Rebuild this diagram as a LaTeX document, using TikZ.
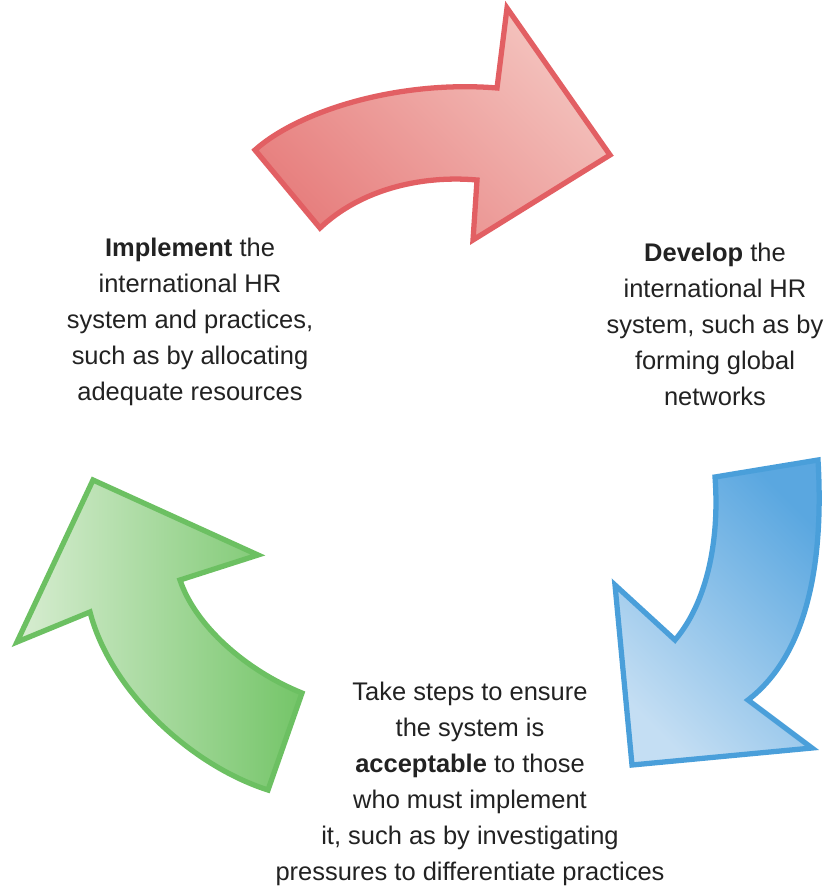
\documentclass[tikz,border=0pt]{standalone}
\usepackage{fontspec}
\setmainfont{Liberation Sans}
\usepackage{xcolor}
\usepackage{tikz}
\usetikzlibrary{positioning}

\definecolor{redline}{HTML}{E25F63}
\definecolor{redlight}{HTML}{F4C4BF}
\definecolor{reddark}{HTML}{E7807F}
\definecolor{blueline}{HTML}{4A9FDA}
\definecolor{bluelight}{HTML}{C4DEF3}
\definecolor{bluedark}{HTML}{5AA7E0}
\definecolor{greenline}{HTML}{6CC062}
\definecolor{greenlight}{HTML}{D8EDD2}
\definecolor{greendark}{HTML}{74C568}
\definecolor{textgrey}{HTML}{222222}

\tikzset{
	cyclearrow/.style={line width=3pt,line join=miter},
	steptext/.style={align=center,text=textgrey,font=\fontsize{14.5}{20.5}\selectfont,inner sep=0pt}
}

\begin{document}
\begin{tikzpicture}[x=0.02cm,y=-0.02cm]
	\useasboundingbox (0,0) rectangle (827,888);
	% red arrow (top)
	\draw[cyclearrow,draw=redline,top color=redlight,bottom color=reddark,shading angle=-45]
		(255,150) .. controls (300,110) and (400,80) .. (497,88) -- (507,8) -- (610,155)
		-- (473,240) -- (477,180) .. controls (420,175) and (360,190) .. (320,228) -- cycle;
	% blue arrow (right)
	\draw[cyclearrow,draw=blueline,top color=bluedark,bottom color=bluelight,shading angle=-45]
		(715,477) -- (818,460) .. controls (825,580) and (800,660) .. (748,700) -- (812,748)
		-- (632,765) -- (615,585) -- (675,640) .. controls (705,605) and (720,545) .. (715,477) -- cycle;
	% green arrow (left)
	\draw[cyclearrow,draw=greenline,left color=greenlight,right color=greendark]
		(93,480) -- (258,555) -- (180,580) .. controls (195,625) and (245,670) .. (302,693)
		-- (268,790) .. controls (190,765) and (110,690) .. (90,612) -- (17,642) -- cycle;
	% texts
	\node[steptext] (implement) at (190,322) {\textbf{Implement} the\\international HR\\system and practices,\\such as by allocating\\adequate resources};
	\node[steptext] (develop) at (715,324) {\textbf{Develop} the\\international HR\\system, such as by\\forming global\\networks};
	\node[steptext] (accept) at (470,784) {Take steps to ensure\\the system is\\\textbf{acceptable} to those\\who must implement\\it, such as by investigating\\pressures to differentiate practices};
\end{tikzpicture}
\end{document}
